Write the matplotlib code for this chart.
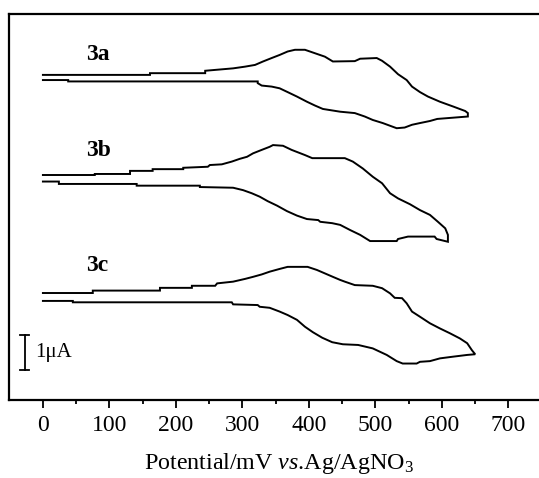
import numpy as np
import matplotlib
matplotlib.use("Agg")
import matplotlib.pyplot as plt

plt.rcParams['font.family'] = ['Liberation Serif', 'DejaVu Serif']
plt.rcParams['mathtext.fontset'] = 'custom'
plt.rcParams['mathtext.rm'] = 'Liberation Serif'
plt.rcParams['mathtext.it'] = 'Liberation Serif:italic'
plt.rcParams['mathtext.bf'] = 'Liberation Serif:bold'

# ---- data: potential (mV) and current (uA, relative to each curve's start) ----
E_3a = [0, 161, 161, 244, 244, 286, 304, 319, 331, 344, 356, 368, 379, 394, 409, 424, 436,
        469, 477, 502, 510, 522, 534, 547, 555, 567, 579, 597, 617, 635, 639, 639,
        593, 582, 567, 555, 544, 532, 525, 511, 496, 484, 469, 447, 421, 409, 397, 382,
        368, 356, 344, 329, 323, 323, 38, 38, 0]
I_3a = [0, 0, 0.05, 0.05, 0.12, 0.19, 0.24, 0.29, 0.39, 0.49, 0.58, 0.68, 0.73, 0.73, 0.63, 0.53, 0.39,
        0.40, 0.47, 0.49, 0.41, 0.24, 0.02, -0.15, -0.34, -0.50, -0.63, -0.78, -0.92, -1.05, -1.11, -1.21,
        -1.28, -1.34, -1.40, -1.45, -1.53, -1.55, -1.50, -1.40, -1.31, -1.21, -1.11, -1.07, -0.99, -0.89, -0.78, -0.63,
        -0.50, -0.39, -0.34, -0.31, -0.24, -0.19, -0.19, -0.15, -0.15]

E_3b = [0, 78, 78, 131, 131, 165, 165, 211, 211, 248, 251, 269, 284, 296, 307, 316, 329, 341, 346,
        361, 374, 394, 405, 454, 466, 481, 496, 510, 522, 534, 552, 567, 582, 594, 605, 609, 609,
        592, 589, 549, 534, 532, 492, 477, 462, 447, 435, 417, 414, 397, 382, 367, 352, 338, 326,
        314, 301, 286, 236, 236, 141, 141, 24, 24, 0]
I_3b = [0, 0, 0.03, 0.03, 0.12, 0.12, 0.17, 0.17, 0.21, 0.24, 0.29, 0.31, 0.39, 0.47, 0.53, 0.63, 0.73, 0.82, 0.87,
        0.85, 0.73, 0.58, 0.49, 0.49, 0.39, 0.19, -0.05, -0.24, -0.53, -0.68, -0.85, -1.02, -1.16, -1.36, -1.55, -1.74, -1.94,
        -1.86, -1.79, -1.79, -1.86, -1.92, -1.92, -1.74, -1.60, -1.45, -1.40, -1.36, -1.31, -1.28, -1.18, -1.05, -0.89, -0.76, -0.63,
        -0.53, -0.44, -0.37, -0.35, -0.31, -0.31, -0.26, -0.26, -0.19, -0.19]

E_3c = [0, 75, 75, 176, 176, 224, 224, 259, 262, 286, 304, 316, 329, 341, 356, 368, 398, 412, 424,
        436, 447, 454, 469, 496, 510, 522, 529, 540, 547, 555, 567, 582, 597, 612, 627, 638, 645, 650,
        638, 617, 597, 582, 567, 562, 541, 532, 517, 496, 474, 451, 435, 420, 406, 394, 382, 368,
        356, 341, 326, 323, 286, 284, 45, 45, 0]
I_3c = [0, 0, 0.07, 0.07, 0.15, 0.15, 0.21, 0.21, 0.28, 0.33, 0.41, 0.47, 0.54, 0.62, 0.70, 0.76, 0.76, 0.67, 0.57,
        0.47, 0.38, 0.33, 0.23, 0.21, 0.14, -0.01, -0.14, -0.15, -0.30, -0.54, -0.69, -0.88, -1.03, -1.17, -1.32, -1.46, -1.66, -1.78,
        -1.80, -1.85, -1.90, -1.98, -2.00, -2.05, -2.05, -1.98, -1.80, -1.61, -1.51, -1.49, -1.43, -1.30, -1.14, -0.98, -0.78, -0.64,
        -0.54, -0.43, -0.40, -0.35, -0.33, -0.27, -0.27, -0.23, -0.23]

labels = ['3a', '3b', '3c']
offsets = [9.45, 6.54, 3.11]          # vertical offset of each curve (uA)
label_pos = [(65, 10.03), (65, 7.24), (65, 3.92)]
xticks = [0, 100, 200, 300, 400, 500, 600, 700]
scale_bar = 1.0   # uA

fig = plt.figure(figsize=(5.39, 4.78), dpi=100)
ax = fig.add_axes([9/539, 78/478, 1.0006, 386/478])

for E, I, off, lab, (lx, ly) in zip([E_3a, E_3b, E_3c], [I_3a, I_3b, I_3c], offsets, labels, label_pos):
    ax.plot(E, np.array(I) + off, color='black', lw=1.4, solid_joinstyle='miter')
    ax.text(lx, ly, lab, fontsize=17, fontweight='bold', ha='left', va='center')

# scale bar
bx, by0 = -27.5, 0.88
ax.plot([bx, bx], [by0, by0 + scale_bar], color='black', lw=1.3)
ax.plot([bx - 7, bx + 7], [by0, by0], color='black', lw=1.3)
ax.plot([bx - 7, bx + 7], [by0 + scale_bar, by0 + scale_bar], color='black', lw=1.3)
ax.text(-11, by0 + scale_bar / 2, '1μA', fontsize=15, ha='left', va='center')

ax.set_xlim(-51, 760)
ax.set_ylim(0, 11.22)
ax.set_xticks(xticks)
ax.set_xticks([50, 150, 250, 350, 450, 550, 650], minor=True)
ax.set_yticks([])
ax.tick_params(axis='x', which='major', direction='out', length=5.5, width=1.3, labelsize=17, pad=5)
ax.tick_params(axis='x', which='minor', direction='out', length=3, width=1.3)
for s in ax.spines.values():
    s.set_linewidth(1.6)
ax.spines['right'].set_visible(False)
ax.set_xlabel(r'Potential/mV $\mathit{vs}$.Ag/AgNO$_3$', fontsize=17.3, labelpad=11)

fig.savefig('out.png', dpi=100)
